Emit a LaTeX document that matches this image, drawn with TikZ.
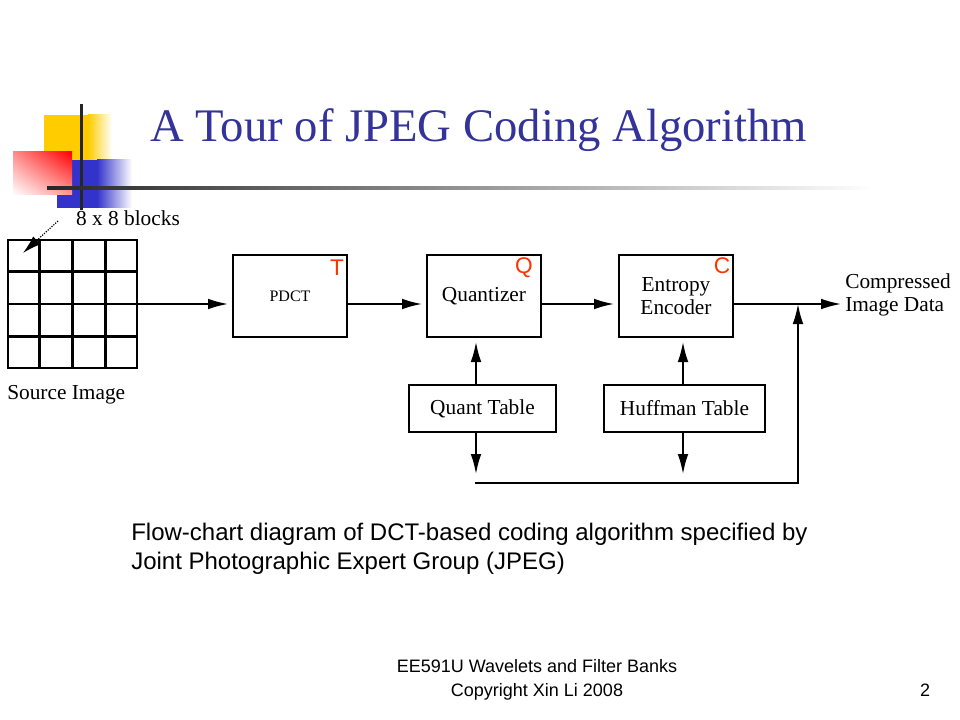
\documentclass[tikz,border=0pt]{standalone}
\usepackage{fontspec}
\setmainfont{Liberation Serif}
\newfontfamily\slidefont{Liberation Sans}
\usepackage{tikz}
\usetikzlibrary{calc,arrows.meta,shadings}
\definecolor{titleblue}{HTML}{333399}
\definecolor{decoyellow}{HTML}{FFCC00}
\definecolor{decoblue}{HTML}{3333CC}
\definecolor{decored}{HTML}{FF0000}
\definecolor{markred}{HTML}{FF3300}
\newdimen\pxunit
\pxunit=0.75pt
\newcommand\mainy{304}
\tikzstyle{stagebox}=[rectangle,draw=black,fill=white,line width=1.5pt,
                      font=\fontsize{16}{17}\selectfont,align=center,inner sep=2pt]
\tikzstyle{plaintext}=[font=\fontsize{16}{17}\selectfont,inner sep=0pt]
\tikzstyle{stagemark}=[font=\slidefont\fontsize{17}{17}\selectfont,text=markred,inner sep=0pt]
\tikzstyle{flow}=[line width=1.3pt,-{Latex[length=15pt,width=8pt]},shorten >=3pt]
\tikzstyle{gridline}=[line width=1.8pt]

\begin{document}
\begin{tikzpicture}[x=\pxunit,y=-\pxunit]
    \useasboundingbox (0,0) rectangle (960,720);
    % slide decoration
    \fill[decoyellow] (44,115) rectangle (88,160);
    \shade[left color=decoyellow,right color=white] (88,115) rectangle (112,160);
    \fill[decoblue] (57,160) rectangle (97,208);
    \shade[left color=decoblue,right color=white] (97,160) rectangle (132,208);
    \shade[upper right=decored,upper left=decored!45,lower right=decored!40,
           lower left=white] (13,152) rectangle (72,195);
    \fill[black!85] (79.5,104) rectangle (82.5,210);
    \shade[left color=black!85,middle color=black!60,right color=white]
        (47,186.5) rectangle (875,189.5);
    \node [font=\fontsize{35}{40}\selectfont,text=titleblue,anchor=base west,inner sep=0pt]
        (title) at (150,142) {A Tour of JPEG Coding Algorithm};

    % source image
    \node [rectangle,draw=black,line width=1.8pt,minimum width=129\pxunit,minimum height=128\pxunit,
           inner sep=0pt] (src) at (72.5,\mainy) {};
    \foreach \k in {1,2,3} {
        \draw[gridline] ($(src.north west)!\k/4!(src.north east)$) -- ($(src.south west)!\k/4!(src.south east)$);
        \draw[gridline] ($(src.north west)!\k/4!(src.south west)$) -- ($(src.north east)!\k/4!(src.south east)$);
    }
    \node [plaintext] (blk) at (128,218) {8 x 8 blocks};
    \node [plaintext,anchor=west] (srclabel) at (7,395) {Source Image};
    \coordinate (blktail) at (58,221);
    \coordinate (cell) at (23,253);
    \draw[densely dotted,line width=0.9pt,-{Latex[length=14pt,width=8pt]}] (blktail) -- (cell);

    % coding stages
    \node [stagebox,minimum width=114\pxunit,minimum height=82\pxunit,font=\fontsize{12}{13}\selectfont]
        (pdct) at (290,296) {PDCT};
    \node [stagebox,minimum width=114\pxunit,minimum height=82\pxunit] (quant) at (484,296) {Quantizer};
    \node [stagebox,minimum width=114\pxunit,minimum height=82\pxunit,
           execute at begin node=\setlength{\baselineskip}{17pt}] (entropy) at (676,296) {Entropy\\Encoder};
    \node [stagebox,minimum width=147\pxunit,minimum height=47\pxunit] (qtable) at (482.5,408.5) {Quant Table};
    \node [stagebox,minimum width=161\pxunit,minimum height=47\pxunit] (htable) at (684.5,408.5) {Huffman Table};
    \node [plaintext,anchor=west,align=left] (out) at (845,295) {Compressed\\Image Data};

    \node [stagemark] (tmark) at (337,268) {T};
    \node [stagemark] (qmark) at (524,268) {Q};
    \node [stagemark] (cmark) at (722,266) {C};

    % connectors
    \coordinate (qtap) at (476,\mainy);
    \coordinate (htap) at (683,\mainy);
    \coordinate (qend) at (476,478);
    \coordinate (hend) at (683,478);
    \coordinate (busl) at (475,483);
    \coordinate (busr) at (798,483);
    \draw[flow] (src.east) -- (src.east -| pdct.west);
    \draw[flow] (pdct.east |- src.east) -- (src.east -| quant.west);
    \draw[flow] (quant.east |- src.east) -- (src.east -| entropy.west);
    \draw[flow] (entropy.east |- src.east) -- (src.east -| out.west);
    \draw[flow] (qtable.north -| qtap) -- (quant.south -| qtap);
    \draw[flow] (htable.north -| htap) -- (entropy.south -| htap);
    \draw[flow] (qtable.south -| qtap) -- (qend);
    \draw[flow] (htable.south -| htap) -- (hend);
    \draw[flow,shorten >=0pt] (busl) -- (busr) -- (busr |- qtap);

    % caption and footer
    \node [font=\slidefont\fontsize{18}{21.75}\selectfont,anchor=north west,align=left,inner sep=0pt]
        (caption) at (131,523) {Flow-chart diagram of DCT-based coding algorithm specified by\\
        Joint Photographic Expert Group (JPEG)};
    \node [font=\slidefont\fontsize{13.5}{18}\selectfont,anchor=north,align=center,inner sep=0pt]
        (foot) at (537,659) {EE591U Wavelets and Filter Banks\\Copyright Xin Li 2008};
    \node [font=\slidefont\fontsize{13.5}{18}\selectfont,anchor=base,inner sep=0pt]
        (pagenum) at (925,696) {2};
\end{tikzpicture}
\end{document}
